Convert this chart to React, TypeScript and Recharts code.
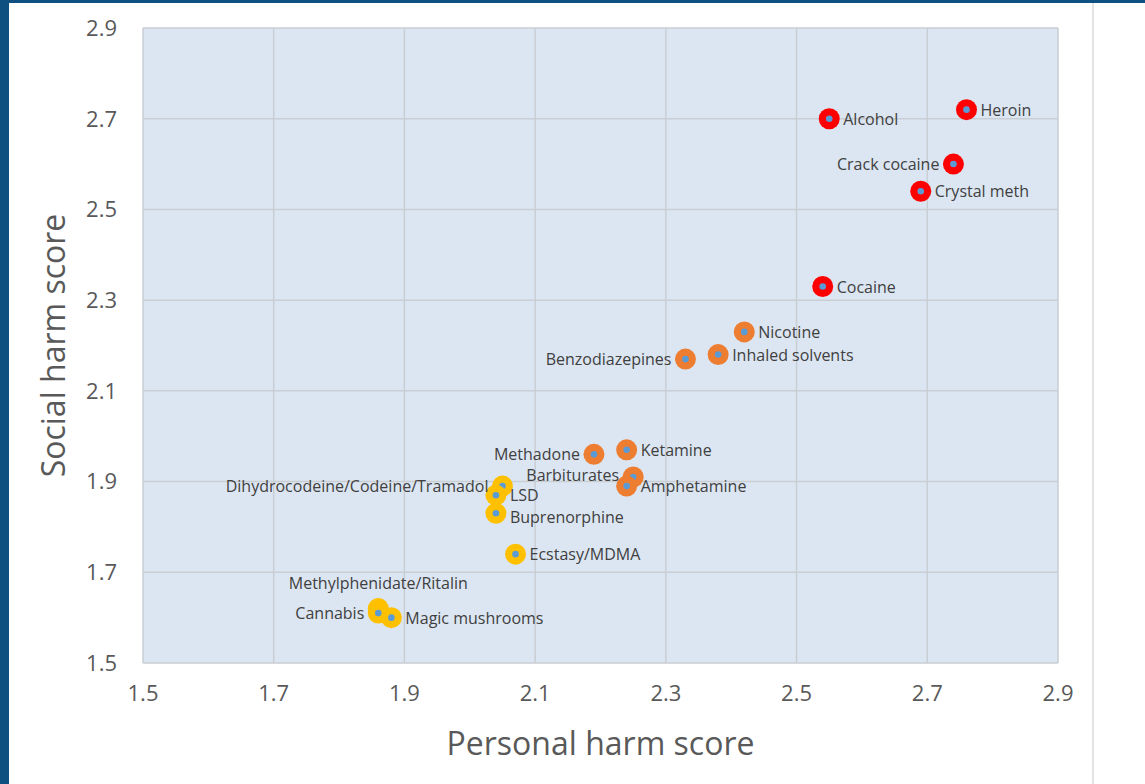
import React from 'react';
import { ScatterChart, Scatter, XAxis, YAxis, CartesianGrid, Label } from 'recharts';

// Axis ticks
const axisTicks = [1.5, 1.7, 1.9, 2.1, 2.3, 2.5, 2.7, 2.9];

// Red group
const redDrugs = ['Heroin', 'Alcohol', 'Crack cocaine', 'Crystal meth', 'Cocaine'];
const redPersonal = [2.76, 2.55, 2.74, 2.69, 2.54];
const redSocial = [2.72, 2.70, 2.60, 2.54, 2.33];

// Orange group
const orangeDrugs = ['Nicotine', 'Inhaled solvents', 'Benzodiazepines', 'Methadone', 'Ketamine', 'Barbiturates', 'Amphetamine'];
const orangePersonal = [2.42, 2.38, 2.33, 2.19, 2.24, 2.25, 2.24];
const orangeSocial = [2.23, 2.18, 2.17, 1.96, 1.97, 1.91, 1.89];

// Yellow group
const yellowDrugs = ['Dihydrocodeine/Codeine/Tramadol', 'LSD', 'Buprenorphine', 'Ecstasy/MDMA', 'Methylphenidate/Ritalin', 'Magic mushrooms', 'Cannabis'];
const yellowPersonal = [2.05, 2.04, 2.04, 2.07, 1.86, 1.88, 1.86];
const yellowSocial = [1.89, 1.87, 1.83, 1.74, 1.62, 1.60, 1.61];

// Label placement relative to point
const labelSide: Record<string, 'left' | 'right' | 'top'> = {
  'Crack cocaine': 'left',
  'Benzodiazepines': 'left',
  'Methadone': 'left',
  'Barbiturates': 'left',
  'Dihydrocodeine/Codeine/Tramadol': 'left',
  'Cannabis': 'left',
  'Methylphenidate/Ritalin': 'top',
};
// Small vertical nudges to keep crowded labels apart
const labelNudge: Record<string, number> = {
  'LSD': 0,
  'Buprenorphine': 4,
  'Barbiturates': -2,
};

const build = (names: string[], xs: number[], ys: number[]) =>
  names.map((name, i) => ({ name, x: xs[i], y: ys[i] }));

const redData = build(redDrugs, redPersonal, redSocial);
const orangeData = build(orangeDrugs, orangePersonal, orangeSocial);
const yellowData = build(yellowDrugs, yellowPersonal, yellowSocial);
const allData = [...redData, ...orangeData, ...yellowData];

const FONT = '"Open Sans", Lato, sans-serif';

const makeMarker = (color: string) => (props: any) => {
  const { cx, cy } = props;
  if (cx == null || cy == null) return <g />;
  return (
    <g>
      <circle cx={cx} cy={cy} r={10.5} fill={color} />
      <circle cx={cx} cy={cy} r={3.3} fill="#5b9bd5" />
    </g>
  );
};

const labelShape = (props: any) => {
  const { cx, cy, payload } = props;
  if (cx == null || cy == null) return <g />;
  const side = labelSide[payload.name] || 'right';
  let x = cx + 14;
  let y = cy + (labelNudge[payload.name] || 0);
  let anchor: 'start' | 'end' | 'middle' = 'start';
  if (side === 'left') {
    x = cx - 14;
    anchor = 'end';
  } else if (side === 'top') {
    x = cx;
    y = cy - 26;
    anchor = 'middle';
  }
  return (
    <text
      x={x}
      y={y}
      textAnchor={anchor}
      dominantBaseline="central"
      fontSize={16}
      fontFamily={FONT}
      fill="#404040"
    >
      {payload.name}
    </text>
  );
};

const tickStyle = { fill: '#595959', fontSize: 22, fontFamily: FONT };
const titleStyle = { fill: '#595959', fontSize: 32, fontFamily: FONT, textAnchor: 'middle' as const };

export default function App() {
  return (
    <div
      style={{
        position: 'fixed',
        left: 0,
        top: 0,
        width: 1145,
        height: 784,
        background: '#0e5080',
        overflow: 'hidden',
      }}
    >
      <div
        style={{
          position: 'absolute',
          left: 9,
          top: 3,
          width: 1136,
          height: 781,
          background: '#ffffff',
        }}
      />
      <div
        style={{
          position: 'absolute',
          left: 1092,
          top: 3,
          width: 2,
          height: 781,
          background: '#e4e4e4',
        }}
      />
      <div style={{ position: 'absolute', left: 0, top: 0 }}>
        <ScatterChart width={1145} height={784} margin={{ top: 28, right: 87, bottom: 21, left: 33 }}>
          <CartesianGrid fill="#dce6f2" stroke="#c9ced4" strokeWidth={1.5} />
          <XAxis
            type="number"
            dataKey="x"
            domain={[1.5, 2.9]}
            ticks={axisTicks}
            tickFormatter={(v: number) => v.toFixed(1)}
            axisLine={false}
            tickLine={false}
            tickSize={0}
            tickMargin={22}
            height={100}
            tick={tickStyle}
            allowDataOverflow
          >
            <Label value="Personal harm score" position="insideBottom" offset={8} style={titleStyle} />
          </XAxis>
          <YAxis
            type="number"
            dataKey="y"
            domain={[1.5, 2.9]}
            ticks={axisTicks}
            tickFormatter={(v: number) => v.toFixed(1)}
            axisLine={false}
            tickLine={false}
            tickSize={0}
            tickMargin={26}
            width={110}
            tick={tickStyle}
            allowDataOverflow
          >
            <Label value="Social harm score" angle={-90} position="insideLeft" offset={21} style={titleStyle} />
          </YAxis>
          <Scatter data={yellowData} shape={makeMarker('#ffc000')} isAnimationActive={false} />
          <Scatter data={orangeData} shape={makeMarker('#ed7d31')} isAnimationActive={false} />
          <Scatter data={redData} shape={makeMarker('#ff0000')} isAnimationActive={false} />
          <Scatter data={allData} shape={labelShape} isAnimationActive={false} />
        </ScatterChart>
      </div>
    </div>
  );
}
